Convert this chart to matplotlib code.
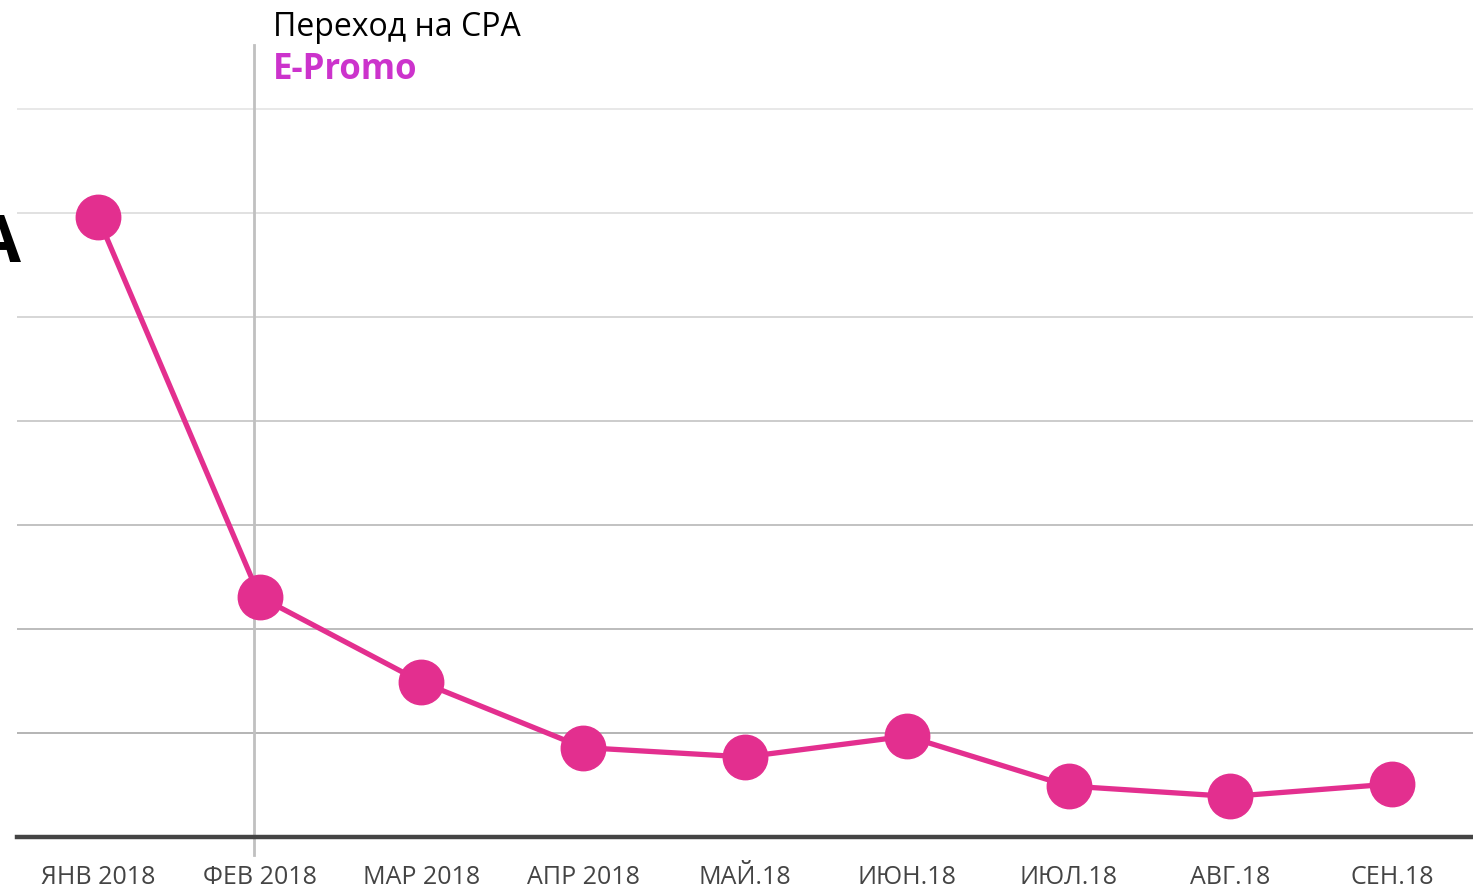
import matplotlib
matplotlib.use("Agg")
import matplotlib.pyplot as plt
from matplotlib import font_manager

months = ["ЯНВ 2018", "ФЕВ 2018", "МАР 2018", "АПР 2018", "МАЙ.18",
          "ИЮН.18", "ИЮЛ.18", "АВГ.18", "СЕН.18"]
values = [5.96, 2.31, 1.49, 0.86, 0.77, 0.97, 0.49, 0.39, 0.51]
grid_levels = [1, 2, 3, 4, 5, 6, 7]
grid_colors = ["#a8a8a8", "#b0b0b0", "#b8b8b8", "#c4c4c4", "#d0d0d0", "#dcdcdc", "#e4e4e4"]
event_x = 0.963

avail = {f.name for f in font_manager.fontManager.ttflist}
narrow = "Liberation Sans Narrow" if "Liberation Sans Narrow" in avail else "Open Sans"

W, H = 1473, 889
fig = plt.figure(figsize=(W / 100, H / 100), dpi=100)
ax = fig.add_axes([17 / W, (H - 837) / H, (W - 17) / W, (837 - 45) / H])

ax.set_xlim(-0.5, 8.5)
ax.set_ylim(0, (837 - 45) / 104)

for lv, c in zip(grid_levels, grid_colors):
    ax.axhline(lv, color=c, lw=1.2, zorder=1)

ax.plot([event_x, event_x], [-18 / 104, (837 - 45) / 104], color="#c0c0c0",
        lw=2, zorder=2, clip_on=False)

x = list(range(len(values)))
ax.plot(x, values, color="#e32f8f", lw=3.8, marker="o", markersize=32,
        zorder=3, clip_on=False)

for s in ["top", "right", "left"]:
    ax.spines[s].set_visible(False)
ax.spines["bottom"].set_color("#444444")
ax.spines["bottom"].set_linewidth(3.2)
ax.spines["bottom"].set_zorder(4)

ax.set_yticks([])
ax.set_xticks(x)
ax.set_xticklabels(months, fontsize=18, color="#444444", family=narrow)
ax.tick_params(axis="x", length=0, pad=20)

fig.text(273 / W, 1 - 36 / H, "Переход на CPA", fontsize=23, color="black",
         family="Open Sans", ha="left", va="baseline")
fig.text(273 / W, 1 - 79 / H, "E-Promo", fontsize=25, color="#cc33cc",
         family="Open Sans", fontweight="bold", ha="left", va="baseline")
fig.text(21 / W, 1 - 262 / H, "A", fontsize=48, color="black",
         family="Open Sans", fontweight="bold", ha="right", va="baseline")

fig.savefig("out.png", dpi=100)
